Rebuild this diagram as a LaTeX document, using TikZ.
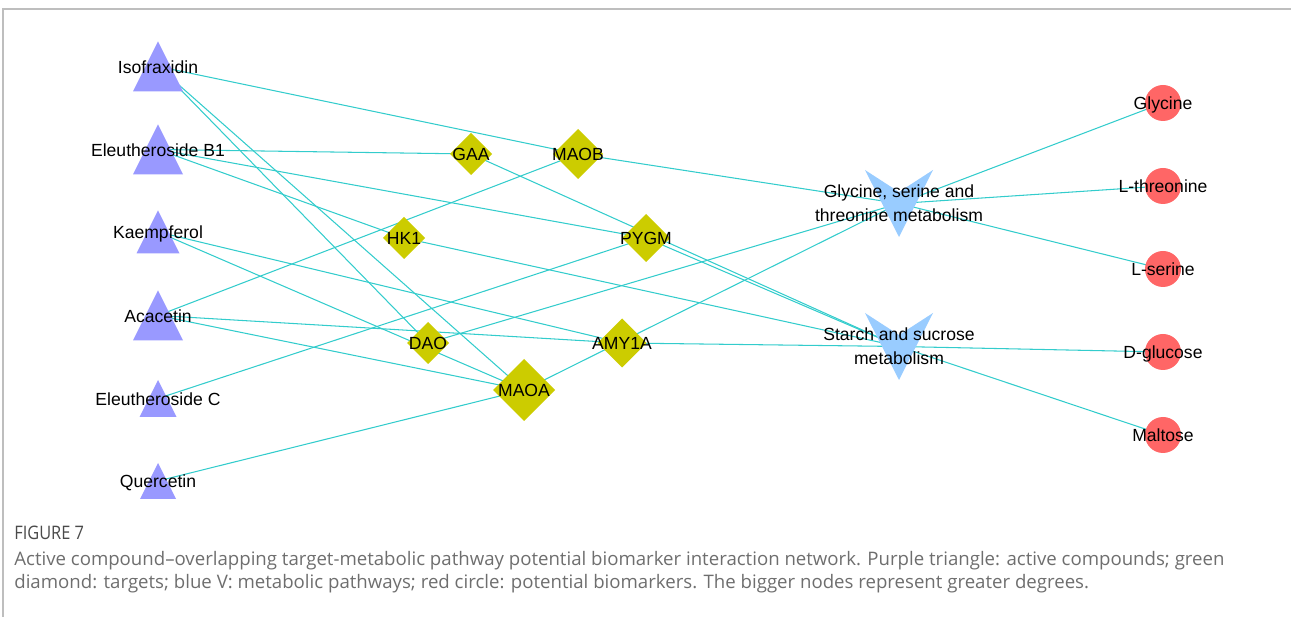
\documentclass[tikz,border=0pt]{standalone}
\usepackage{fontspec}
\setmainfont{Liberation Sans}
\newfontfamily\capfont{Open Sans}
\newfontfamily\figfont{Open Sans}[FakeStretch=0.88]
\usepackage{xcolor}
\usetikzlibrary{backgrounds}

\definecolor{cmpdfill}{HTML}{9999FF}
\definecolor{tgtfill}{HTML}{CCCC00}
\definecolor{pathfill}{HTML}{99CCFF}
\definecolor{biofill}{HTML}{FF6666}
\definecolor{linkcyan}{HTML}{33CCCC}
\definecolor{capgray}{HTML}{6E6E6E}
\definecolor{figgray}{HTML}{4A4A4A}
\definecolor{framegray}{HTML}{BEBEBE}

\begin{document}
\begin{tikzpicture}[
  x=0.02cm, y=-0.02cm,
  font=\fontsize{10}{13.6}\selectfont,
  cmpd/.style={inner sep=1pt, text height=9.5pt, text depth=1.9pt},
  tgt/.style={inner sep=1pt, text height=9.5pt, text depth=1.9pt},
  pathw/.style={inner sep=1pt, align=center},
  bio/.style={inner sep=1pt, text height=9.5pt, text depth=1.9pt},
  link/.style={draw=linkcyan, line width=0.6pt},
  tri/.style={fill=cmpdfill},
  dia/.style={fill=tgtfill},
  vee/.style={fill=pathfill},
  dot/.style={fill=biofill},
  capt/.style={
    font=\capfont\fontsize{10.6}{13}\selectfont,
    text=capgray,
    anchor=base west,
    inner sep=0pt
  }
]

\useasboundingbox (0,0) rectangle (1291,617);

% frame
\draw[framegray, line width=0.6pt] (1291,9) -- (3,9) -- (3,617);

% -------------------------------------------------------------------
% active compounds
% -------------------------------------------------------------------
\node[cmpd] (iso) at (158,66.5) {Isofraxidin};
\node[cmpd] (eb1) at (158,149.5) {Eleutheroside B1};
\node[cmpd] (kae) at (158,232) {Kaempferol};
\node[cmpd] (aca) at (158,315.5) {Acacetin};
\node[cmpd] (ec) at (158,398.5) {Eleutheroside C};
\node[cmpd] (que) at (158,481) {Quercetin};

% -------------------------------------------------------------------
% targets
% -------------------------------------------------------------------
\node[tgt] (gaa) at (471,154) {GAA};
\node[tgt] (maob) at (578,154) {MAOB};
\node[tgt] (hk1) at (404,238) {HK1};
\node[tgt] (pygm) at (646,238) {PYGM};
\node[tgt] (dao) at (428,343) {DAO};
\node[tgt] (amy) at (622,343) {AMY1A};
\node[tgt] (maoa) at (524,390) {MAOA};

% -------------------------------------------------------------------
% metabolic pathways
% -------------------------------------------------------------------
\node[pathw] (gsm) at (899,203.5) {Glycine, serine and\\threonine metabolism};
\node[pathw] (ssm) at (899,346.5) {Starch and sucrose\\metabolism};

% -------------------------------------------------------------------
% potential biomarkers
% -------------------------------------------------------------------
\node[bio] (gly) at (1163,103) {Glycine};
\node[bio] (thr) at (1163,186) {L-threonine};
\node[bio] (ser) at (1163,269) {L-serine};
\node[bio] (glc) at (1163,352) {D-glucose};
\node[bio] (mal) at (1163,435) {Maltose};

\begin{scope}[on background layer]
  % interactions
  \foreach \a/\b in {iso/maob, iso/dao, iso/maoa,
                     eb1/gaa, eb1/hk1, eb1/pygm,
                     kae/amy, kae/maoa,
                     aca/maob, aca/amy, aca/maoa,
                     ec/pygm, que/maoa,
                     maob/gsm, maoa/gsm, dao/gsm,
                     gaa/ssm, hk1/ssm, pygm/ssm, amy/ssm,
                     gsm/gly, gsm/thr, gsm/ser,
                     ssm/glc, ssm/mal}
    \draw[link] (\a.center) -- (\b.center);

  % node shapes
  \foreach \n/\s in {iso/50, eb1/50, kae/43, aca/50, ec/37, que/36}
    \fill[tri] (\n.center) ++(0,-\s/2) -- ++(\s/2,\s) -- ++(-\s,0) -- cycle;
  \foreach \n/\h in {gaa/21, maob/25, hk1/21, pygm/24, dao/21, amy/24.5, maoa/31}
    \fill[dia] (\n.center) ++(0,-\h) -- ++(\h,\h) -- ++(-\h,\h) -- ++(-\h,-\h) -- cycle;
  \foreach \n in {gsm, ssm}
    \fill[vee] (\n.center) ++(-34,-33.5) -- ++(34,22) -- ++(34,-22) -- ++(-34,67) -- cycle;
  \foreach \n in {gly, thr, ser, glc, mal}
    \fill[dot] (\n.center) circle[radius=18];
\end{scope}

% caption
\node[capt, text=figgray, font=\figfont\fontsize{10.6}{13}\selectfont] (fig) at (14,540) {FIGURE 7};
\node[capt] (cap1) at (14,566) {Active compound–overlapping target-metabolic pathway potential biomarker interaction network. Purple triangle: active compounds; green};
\node[capt] (cap2) at (14,589) {diamond: targets; blue V: metabolic pathways; red circle: potential biomarkers. The bigger nodes represent greater degrees.};

\end{tikzpicture}
\end{document}
